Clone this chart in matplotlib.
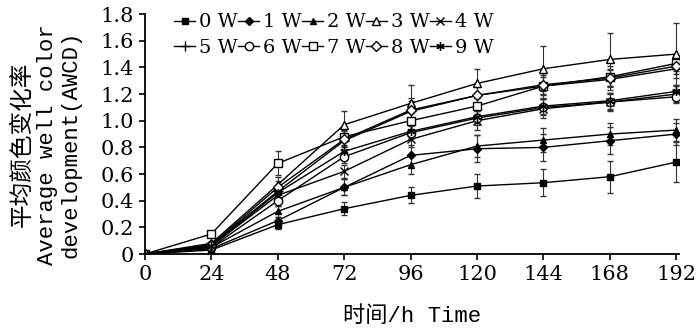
import matplotlib
matplotlib.use("Agg")
import matplotlib.pyplot as plt

hours = [0, 24, 48, 72, 96, 120, 144, 168, 192]
x_ticks = [0, 24, 48, 72, 96, 120, 144, 168, 192]
y_ticks = [0, 0.2, 0.4, 0.6, 0.8, 1.0, 1.2, 1.4, 1.6, 1.8]
y_tick_labels = ["0", "0.2", "0.4", "0.6", "0.8", "1.0", "1.2", "1.4", "1.6", "1.8"]

labels = ["0 W", "1 W", "2 W", "3 W", "4 W", "5 W", "6 W", "7 W", "8 W", "9 W"]

w0 = [0, 0.03, 0.22, 0.34, 0.44, 0.51, 0.535, 0.58, 0.69]
w1 = [0, 0.04, 0.25, 0.50, 0.74, 0.79, 0.80, 0.85, 0.90]
w2 = [0, 0.05, 0.32, 0.50, 0.67, 0.81, 0.855, 0.90, 0.93]
w3 = [0, 0.08, 0.52, 0.97, 1.13, 1.28, 1.39, 1.46, 1.50]
w4 = [0, 0.06, 0.44, 0.62, 0.86, 1.00, 1.09, 1.14, 1.20]
w5 = [0, 0.07, 0.47, 0.85, 1.07, 1.19, 1.26, 1.31, 1.39]
w6 = [0, 0.05, 0.40, 0.73, 0.91, 1.02, 1.10, 1.14, 1.18]
w7 = [0, 0.15, 0.68, 0.88, 1.00, 1.11, 1.26, 1.33, 1.43]
w8 = [0, 0.07, 0.50, 0.86, 1.08, 1.19, 1.27, 1.32, 1.41]
w9 = [0, 0.06, 0.46, 0.77, 0.92, 1.03, 1.11, 1.15, 1.22]

e0 = [0, 0.01, 0.03, 0.05, 0.06, 0.09, 0.10, 0.12, 0.15]
e1 = [0, 0.01, 0.03, 0.06, 0.08, 0.10, 0.10, 0.10, 0.08]
e2 = [0, 0.01, 0.04, 0.06, 0.07, 0.08, 0.09, 0.08, 0.08]
e3 = [0, 0.02, 0.06, 0.10, 0.14, 0.11, 0.17, 0.20, 0.23]
e4 = [0, 0.01, 0.04, 0.05, 0.06, 0.07, 0.07, 0.07, 0.06]
e5 = [0, 0.02, 0.05, 0.08, 0.10, 0.09, 0.10, 0.08, 0.07]
e6 = [0, 0.01, 0.04, 0.05, 0.05, 0.05, 0.06, 0.06, 0.05]
e7 = [0, 0.02, 0.09, 0.07, 0.06, 0.06, 0.07, 0.08, 0.06]
e8 = [0, 0.01, 0.05, 0.06, 0.07, 0.06, 0.07, 0.06, 0.06]
e9 = [0, 0.01, 0.04, 0.05, 0.05, 0.05, 0.06, 0.06, 0.05]

series = [w0, w1, w2, w3, w4, w5, w6, w7, w8, w9]
errors = [e0, e1, e2, e3, e4, e5, e6, e7, e8, e9]
markers = ["s", "D", "^", "^", "x", "+", "o", "s", "D", "*"]
filled = [True, True, True, False, True, True, False, False, False, True]
msizes = [5, 4.5, 5, 5.5, 6, 7, 6, 6, 5, 6]

ylabel_lines = ["平均颜色变化率", "Average well color", "development(AWCD)"]

fam = ["DejaVu Serif", "Noto Sans CJK SC"]
plt.rcParams["font.family"] = fam

fig = plt.figure(figsize=(7, 3.36), dpi=100)
ax = fig.add_axes([0.207, 0.244, 0.763, 0.714])

for y, err, m, f, ms, lab in zip(series, errors, markers, filled, msizes, labels):
    mk = m
    if m == "*":
        mk = (6, 2, 0)
    ax.errorbar(hours, y, yerr=err, color="black", lw=1.0, marker=mk,
                markersize=ms, markerfacecolor="black" if f else "white",
                markeredgecolor="black", markeredgewidth=1.0,
                ecolor="#333333", elinewidth=0.8, capsize=2.5, capthick=0.8,
                label=lab)

ax.set_xlim(0, 193)
ax.set_ylim(0, 1.8)
ax.set_xticks(x_ticks)
ax.set_xticklabels([str(v) for v in x_ticks], fontsize=15)
ax.set_yticks(y_ticks)
ax.set_yticklabels(y_tick_labels, fontsize=15)
ax.spines["top"].set_visible(False)
ax.spines["right"].set_visible(False)
ax.spines["left"].set_linewidth(1.3)
ax.spines["bottom"].set_linewidth(1.3)
ax.tick_params(direction="out", length=4, width=1.2, pad=4)

handles, labs = ax.get_legend_handles_labels()
handles = [h[0] for h in handles]
order = [0, 5, 1, 6, 2, 7, 3, 8, 4, 9]
leg = fig.legend([handles[i] for i in order], [labs[i] for i in order],
                 ncol=5, loc="upper left",
                 bbox_to_anchor=(0.232, 0.995), frameon=False, fontsize=14,
                 handlelength=1.1, handletextpad=0.2, columnspacing=0.0,
                 labelspacing=0.38, borderaxespad=0.2)

ax.set_xlabel("时间/h Time", fontsize=16, labelpad=16,
              family=["Liberation Mono", "Noto Sans CJK SC"])

mono = ["Liberation Mono", "Noto Sans CJK SC"]
fig.text(0.032, 0.57, ylabel_lines[0], rotation=90, ha="center", va="center",
         fontsize=17, family=mono)
fig.text(0.068, 0.57, ylabel_lines[1], rotation=90, ha="center", va="center",
         fontsize=16, family=mono)
fig.text(0.101, 0.57, ylabel_lines[2], rotation=90, ha="center", va="center",
         fontsize=16, family=mono)

fig.savefig("out.png", dpi=100)
